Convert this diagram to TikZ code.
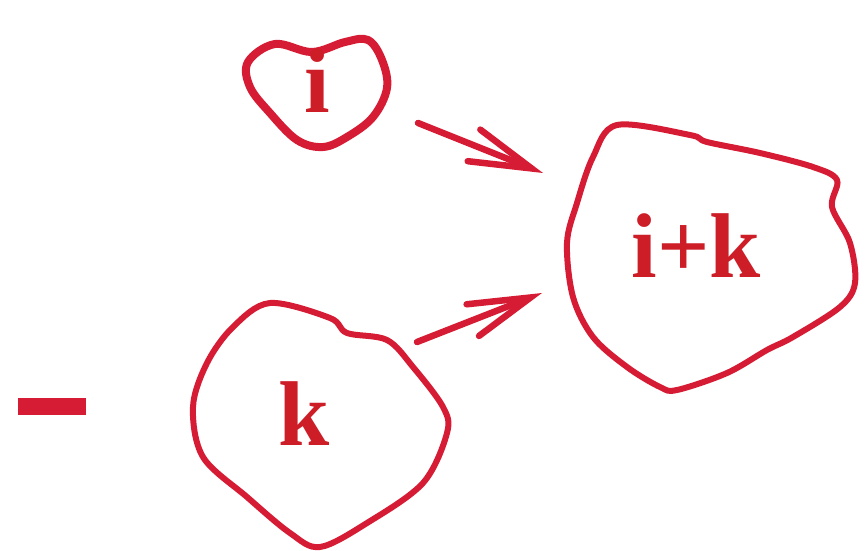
\documentclass[tikz,border=0pt]{standalone}
\usepackage{fontspec}
\setmainfont{Liberation Serif}
\usetikzlibrary{arrows.meta}
\definecolor{pen}{RGB}{214,28,52}
\definecolor{ink}{RGB}{205,30,40}
\begin{document}
\begin{tikzpicture}[x=1pt,y=-1pt,
  blob/.style={draw=pen,line width=6pt,line join=round},
  lbl/.style={text=ink,font=\fontsize{92}{92}\selectfont\bfseries,anchor=base,inner sep=0pt},
  arr/.style={draw=pen,line width=6.5pt,line cap=round,-{Straight Barb[length=62pt,width=34pt,line cap=round]}}]
\useasboundingbox (0,0) rectangle (868,551);
% blobs
\draw[blob,line width=8pt] plot[smooth cycle,tension=0.6] coordinates{
 (275,44) (312,52) (345,42) (368,40) (382,60) (387,88) (373,117) (347,137) (323,147) (297,140) (270,113) (250,87) (248,62)};
\draw[blob] plot[smooth cycle,tension=0.55] coordinates{
 (617,125) (690,135) (707,142) (760,153) (813,167) (837,180) (832,207) (850,243) (855,283) (840,307) (793,337) (767,350) (727,373) (677,390) (660,387) (627,367) (593,337) (573,297) (567,243) (577,203) (593,157)};
\draw[blob] plot[smooth cycle,tension=0.55] coordinates{
 (270,303) (330,318) (347,333) (387,340) (413,367) (443,407) (447,433) (423,483) (367,523) (320,547) (290,533) (247,497) (203,457) (193,407) (207,363) (233,327)};
% labels
\node[lbl] (ni) at (317,113) {i};
\node[lbl] (nk) at (304,445) {k};
\node[lbl] (nik) at (696,277) {i+k};
% arrow ends
\coordinate (a1s) at (418,123);
\coordinate (a1e) at (543,173);
\coordinate (a2s) at (417,342);
\coordinate (a2e) at (542,293);
\draw[arr] (a1s) -- (a1e);
\draw[arr] (a2s) -- (a2e);
% minus sign
\fill[pen] (18,398) rectangle (86,415);
\end{tikzpicture}
\end{document}
